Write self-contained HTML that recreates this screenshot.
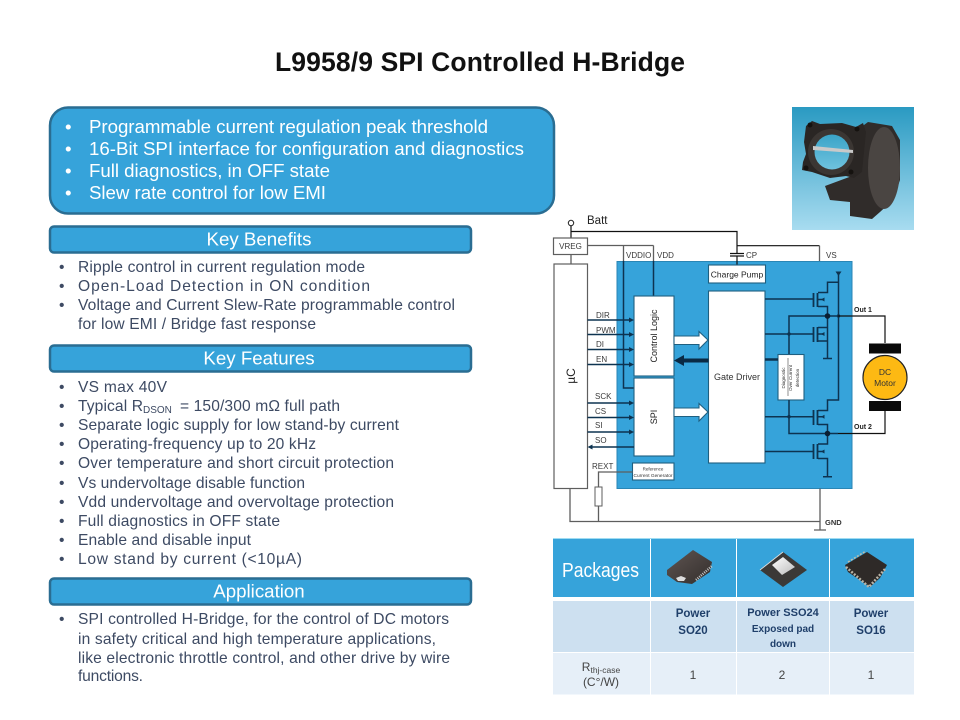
<!DOCTYPE html>
<html><head><meta charset="utf-8"><style>
html,body{margin:0;padding:0;background:#fff;width:960px;height:720px;overflow:hidden}
svg{display:block}
text{font-family:"Liberation Sans",sans-serif}
.l{font-size:15.600px;fill:#3d4a63}
.t{font-size:18.700px;fill:#fff}
.s{font-size:8px;fill:#3a3a3a}
.g{stroke:#5e5e5e;stroke-width:1.3;fill:none}
.k{stroke:#111;stroke-width:1.2;fill:none}
.d{stroke:#0d3350;stroke-width:1.5;fill:none}
.b{fill:#fff;stroke:#1f5f80;stroke-width:1.1}
.h{font-size:18.700px;fill:#fff}
</style></head><body>
<svg width="960" height="720" viewBox="0 0 960 720" xmlns="http://www.w3.org/2000/svg">
<defs>
<linearGradient id="sky" x1="0" y1="0" x2="0" y2="1"><stop offset="0" stop-color="#2a9ac2"/><stop offset="1" stop-color="#a8dcf0"/></linearGradient>
<linearGradient id="hole" x1="0" y1="0" x2="0" y2="1"><stop offset="0" stop-color="#3aa4c8"/><stop offset="1" stop-color="#6fc2de"/></linearGradient>
<linearGradient id="chip" x1="0" y1="0" x2="1" y2="1"><stop offset="0" stop-color="#5f5552"/><stop offset="1" stop-color="#332e2c"/></linearGradient>
<linearGradient id="pad" x1="0" y1="0" x2="1" y2="1"><stop offset="0" stop-color="#fff"/><stop offset="1" stop-color="#bbb"/></linearGradient>
</defs>
<rect width="960" height="720" fill="#fff"/>
<text x="275" y="71" font-size="26.500" font-weight="bold" fill="#111" textLength="410" lengthAdjust="spacing">L9958/9 SPI Controlled H-Bridge</text>

<rect x="50" y="107.500" width="504" height="106" rx="18" fill="#36a3da" stroke="#2a6d92" stroke-width="2.500"/>
<text x="65" y="133" class="t">•</text><text x="89" y="133" class="t" textLength="399" lengthAdjust="spacing">Programmable current regulation peak threshold</text>
<text x="65" y="155" class="t">•</text><text x="89" y="155" class="t" textLength="435" lengthAdjust="spacing">16-Bit SPI interface for configuration and diagnostics</text>
<text x="65" y="177" class="t">•</text><text x="89" y="177" class="t" textLength="241" lengthAdjust="spacing">Full diagnostics, in OFF state</text>
<text x="65" y="199" class="t">•</text><text x="89" y="199" class="t" textLength="237" lengthAdjust="spacing">Slew rate control for low EMI</text>

<rect x="50" y="226.500" width="421" height="26" rx="4" fill="#36a3da" stroke="#2a6d92" stroke-width="2.500"/>
<text x="259" y="245.500" text-anchor="middle" class="h">Key Benefits</text>
<rect x="50" y="345.500" width="421" height="26" rx="4" fill="#36a3da" stroke="#2a6d92" stroke-width="2.500"/>
<text x="259" y="364.500" text-anchor="middle" class="h">Key Features</text>
<rect x="50" y="578.500" width="421" height="26" rx="4" fill="#36a3da" stroke="#2a6d92" stroke-width="2.500"/>
<text x="259" y="597.500" text-anchor="middle" class="h">Application</text>

<g>
<text x="59" y="272" class="l">•</text><text x="78" y="272" class="l" textLength="287" lengthAdjust="spacing">Ripple control in current regulation mode</text>
<text x="59" y="291" class="l">•</text><text x="78" y="291" class="l" textLength="292" lengthAdjust="spacing">Open-Load Detection in ON condition</text>
<text x="59" y="310" class="l">•</text><text x="78" y="310" class="l" textLength="377" lengthAdjust="spacing">Voltage and Current Slew-Rate programmable control</text>
<text x="78" y="329" class="l" textLength="238" lengthAdjust="spacing">for low EMI / Bridge fast response</text>

<text x="59" y="392" class="l">•</text><text x="78" y="392" class="l" textLength="89" lengthAdjust="spacing">VS max 40V</text>
<text x="59" y="411" class="l">•</text><text x="78" y="411" class="l" textLength="65" lengthAdjust="spacing">Typical R</text><text x="143" y="413" font-size="10" fill="#3d4a63">DSON</text><text x="180" y="411" class="l" textLength="160" lengthAdjust="spacing">= 150/300 mΩ full path</text>
<text x="59" y="430" class="l">•</text><text x="78" y="430" class="l" textLength="321" lengthAdjust="spacing">Separate logic supply for low stand-by current</text>
<text x="59" y="449" class="l">•</text><text x="78" y="449" class="l" textLength="238" lengthAdjust="spacing">Operating-frequency  up to 20 kHz</text>
<text x="59" y="468" class="l">•</text><text x="78" y="468" class="l" textLength="316" lengthAdjust="spacing">Over temperature and short circuit protection</text>
<text x="59" y="488" class="l">•</text><text x="78" y="488" class="l" textLength="227" lengthAdjust="spacing">Vs undervoltage  disable function</text>
<text x="59" y="507" class="l">•</text><text x="78" y="507" class="l" textLength="316" lengthAdjust="spacing">Vdd undervoltage  and overvoltage protection</text>
<text x="59" y="526" class="l">•</text><text x="78" y="526" class="l" textLength="202" lengthAdjust="spacing">Full diagnostics in OFF state</text>
<text x="59" y="545" class="l">•</text><text x="78" y="545" class="l" textLength="173" lengthAdjust="spacing">Enable and disable input</text>
<text x="59" y="564" class="l">•</text><text x="78" y="564" class="l" textLength="224" lengthAdjust="spacing">Low stand by current  (&lt;10µA)</text>

<text x="59" y="624" class="l">•</text><text x="78" y="624" class="l" textLength="371" lengthAdjust="spacing">SPI controlled H-Bridge, for the control of DC motors</text>
<text x="78" y="644" class="l" textLength="358" lengthAdjust="spacing">in safety critical and high temperature applications,</text>
<text x="78" y="663" class="l" textLength="372" lengthAdjust="spacing">like electronic throttle control, and other drive by wire</text>
<text x="78" y="681" class="l" textLength="65" lengthAdjust="spacing">functions.</text>
</g>

<!-- throttle photo -->
<rect x="792" y="107" width="122" height="123" fill="url(#sky)"/>
<path d="M860 128L868 122L892 126L900 140L900 180L893 200L880 212L872 219L850 216L850 202L830 200L825 186L852 176Z" fill="#302c2a"/>
<path d="M806 126L812 121L820 124L842 123L856 127L863 123L866 132L862 172L854 178L846 176L830 178L812 172L802 170L803 162L806 154L804 142Z" fill="#2a2624"/>
<ellipse cx="884" cy="168" rx="16" ry="41" fill="#4a4542"/>
<circle cx="831" cy="152" r="23" fill="#3b3633"/>
<circle cx="832" cy="152" r="17.500" fill="url(#hole)"/>
<path d="M813 146L853 150L853 153L813 150Z" fill="#c9c9c9"/>
<circle cx="810" cy="125" r="2.500" fill="#15120f"/><circle cx="806" cy="168" r="2.500" fill="#15120f"/><circle cx="851" cy="172" r="2.500" fill="#15120f"/><circle cx="857" cy="129" r="2.500" fill="#15120f"/>

<!-- circuit -->
<rect x="617" y="261.500" width="235" height="227" fill="#36a3da" stroke="#2a86b5" stroke-width="1"/>
<circle cx="571" cy="223" r="2.700" fill="#fff" stroke="#222" stroke-width="1"/>
<text x="587" y="224" font-size="11.500" fill="#222">Batt</text>
<path class="k" d="M571 226V238M571 231.500H737V253M737 245.700H819.500"/>
<path class="g" d="M819.500 245.700V261"/>
<path class="k" d="M730 253.500H744M730 256H744M737 256V265" stroke-width="1.400"/>
<text x="746" y="258" class="s">CP</text>
<text x="826" y="258" class="s">VS</text>
<rect x="553.500" y="238" width="34" height="16.500" fill="#fff" stroke="#5e5e5e" stroke-width="1.200"/>
<text x="570.500" y="249" text-anchor="middle" class="s">VREG</text>
<path class="g" d="M571 254.500V264"/>
<rect x="554" y="264" width="33.500" height="224.500" fill="#fff" stroke="#5e5e5e" stroke-width="1.200"/>
<text transform="translate(575,376) rotate(-90)" text-anchor="middle" font-size="12" fill="#222">µC</text>
<path class="g" d="M587.500 245.500H653.500M653.500 245.500V261M623.500 245.500V261"/>
<path class="d" d="M623.500 261V388H634M653.500 261V296"/>
<text x="626" y="258" class="s">VDDIO</text>
<text x="657" y="258" class="s">VDD</text>

<rect x="634" y="296" width="40" height="80" class="b"/>
<text transform="translate(657,336) rotate(-90)" text-anchor="middle" font-size="9" fill="#222">Control Logic</text>
<rect x="634" y="378" width="40" height="78" class="b"/>
<text transform="translate(657,417) rotate(-90)" text-anchor="middle" font-size="9" fill="#222">SPI</text>
<rect x="708.500" y="291" width="56.500" height="172" class="b"/>
<text x="737" y="380" text-anchor="middle" font-size="9" fill="#333">Gate Driver</text>
<rect x="708.500" y="265" width="57" height="18" class="b"/>
<text x="737" y="277.500" text-anchor="middle" font-size="8.500" fill="#222">Charge Pump</text>
<rect x="632.500" y="463" width="41.500" height="17" class="b"/>
<text x="653" y="470.500" text-anchor="middle" font-size="4.500" fill="#333">Reference</text>
<text x="653" y="477" text-anchor="middle" font-size="4.800" fill="#333">Current Generator</text>
<rect x="778" y="354.500" width="26" height="45.500" class="b"/>
<g font-size="4.500" fill="#333" text-anchor="middle">
<text transform="translate(785,378) rotate(-90)">Diagnostic</text>
<text transform="translate(792,378) rotate(-90)">Over Current</text>
<text transform="translate(799,378) rotate(-90)">detection</text>
</g>
<path d="M788 358V396" stroke="#444" stroke-width=".6"/>

<!-- signal arrows -->
<g class="d">
<path d="M587.500 320H630M587.500 334.500H630M587.500 349.500H630M587.500 364.500H630M587.500 403H630M587.500 417.500H630M587.500 432H630M592 447H634"/>
</g>
<g fill="#0d3350">
<path d="M634 320l-5-2.500v5zM634 334.500l-5-2.500v5zM634 349.500l-5-2.500v5zM634 364.500l-5-2.500v5zM634 403l-5-2.500v5zM634 417.500l-5-2.500v5zM634 432l-5-2.500v5zM587.500 447l5-2.500v5z"/>
</g>
<g class="s">
<text x="596" y="318" class="s">DIR</text><text x="596" y="333" class="s">PWM</text><text x="596" y="347" class="s">DI</text><text x="596" y="362" class="s">EN</text>
<text x="595" y="399" class="s">SCK</text><text x="595" y="414" class="s">CS</text><text x="595" y="428" class="s">SI</text><text x="595" y="443" class="s">SO</text>
<text x="592" y="469" class="s">REXT</text>
</g>
<path class="g" d="M632.500 472H598.500V487M598.500 506V521.500M570 488.500V521.500H820M820 488.500V530M814 530H826"/>
<rect x="595" y="487" width="7" height="19" fill="#fff" stroke="#5e5e5e" stroke-width="1"/>
<text x="825" y="525" font-size="7.500" font-weight="bold" fill="#333">GND</text>

<!-- block arrows -->
<path d="M674 336H699V331.500L708 340L699 349V344.500H674Z" fill="#fff" stroke="#1f5f80" stroke-width="1.100"/>
<path d="M674 408H699V403.500L708 412L699 421V416.500H674Z" fill="#fff" stroke="#1f5f80" stroke-width="1.100"/>
<path d="M708.500 358.500H684V355L674 360.500L684 366V362.500H708.500Z" fill="#0a2a44"/>

<!-- H-bridge -->
<g class="d">
<path d="M765 299H813M765 334H813M765 416.700H813M765 451.500H813"/>
<path d="M813.500 293V307M817.500 293V307M813.500 327V342M817.500 327V342M813.500 410V425M817.500 410V425M813.500 444V459M817.500 444V459" stroke-width="1.800"/>
<path d="M818 292.500H827.500V282.300H838.500M818 299.500H824M818 306.500H827.500V358.500M818 327.500H827.500M818 334H824M818 341H827.500M838.500 272V400H827.500V410.500H818M818 416.700H824M818 424.500H827.500V444H818M818 451.500H824M818 458.500H827.500V476.700M823 358.500H832M823 476.700H832"/>
<path d="M789 354V316H838.500M789 400V433.500H838"/>
</g>
<path d="M838.500 276l-3-4.500h6z" fill="#0d3350"/>
<g fill="#0d3350"><path d="M821 299.500l3.500-2v4zM821 334l3.500-2v4zM821 416.700l3.500-2v4zM821 451.500l3.500-2v4z"/><circle cx="789" cy="334" r="1.700"/><circle cx="789" cy="416.700" r="1.700"/><circle cx="838.500" cy="316" r="1.700"/></g>
<path d="M765 359.500H778" stroke="#0d3350" stroke-width="2.500"/>
<circle cx="827.500" cy="316" r="2.800" fill="#0a1f33"/><circle cx="827.500" cy="433.500" r="2.800" fill="#0a1f33"/>
<path class="k" d="M838 316H885V343M838 433.500H885V411"/>
<text x="854" y="312" font-size="7" font-weight="bold" fill="#222">Out 1</text>
<text x="854" y="429" font-size="7" font-weight="bold" fill="#222">Out 2</text>
<rect x="869" y="343.500" width="32" height="10" fill="#0a0a0a"/>
<rect x="869" y="401" width="32" height="10" fill="#0a0a0a"/>
<circle cx="885" cy="377.500" r="22" fill="#fdb913" stroke="#222" stroke-width="1.200"/>
<text x="885" y="375" text-anchor="middle" font-size="8.500" fill="#333">DC</text>
<text x="885" y="386" text-anchor="middle" font-size="8.500" fill="#333">Motor</text>

<!-- table -->
<rect x="553" y="538" width="361" height="1" fill="#9fdcf2"/>
<rect x="553" y="539" width="97" height="58" fill="#36a3da"/>
<rect x="651" y="539" width="85" height="58" fill="#36a3da"/>
<rect x="737" y="539" width="92" height="58" fill="#36a3da"/>
<rect x="830" y="539" width="84" height="58" fill="#36a3da"/>
<rect x="553" y="601" width="97" height="51" fill="#cde0f0"/>
<rect x="651" y="601" width="85" height="51" fill="#cde0f0"/>
<rect x="737" y="601" width="92" height="51" fill="#cde0f0"/>
<rect x="830" y="601" width="84" height="51" fill="#cde0f0"/>
<rect x="553" y="653" width="97" height="41.500" fill="#e6eff8"/>
<rect x="651" y="653" width="85" height="41.500" fill="#e6eff8"/>
<rect x="737" y="653" width="92" height="41.500" fill="#e6eff8"/>
<rect x="830" y="653" width="84" height="41.500" fill="#e6eff8"/>
<text x="562" y="577" font-size="20" fill="#fff" textLength="77" lengthAdjust="spacingAndGlyphs">Packages</text>

<path d="M667 570L693 550L712 562L710 572L692 584L677 582L667 575Z" fill="url(#chip)"/>
<path d="M696 580L712 566" stroke="#c8c8c8" stroke-width="2.500" stroke-dasharray="1 1.200"/>
<path d="M676 578l5-2 5 2-2 3-6 0z" fill="#ddd"/>
<path d="M760 570L783 552L807 570L783 587Z" fill="#3b3937"/>
<path d="M760 570L783 552" stroke="#e0e0e0" stroke-width=".8"/>
<path d="M772 565L783 557L795 567L782 575Z" fill="url(#pad)"/>
<path d="M845 565L867 552L887 565L880 578L870 587L848 572Z" fill="#2e2a28"/>
<path d="M846 567L869 587L886 568" stroke="#b9b3a5" stroke-width="2.500" fill="none" stroke-dasharray="2 1.500"/>
<path d="M848 562L866 551" stroke="#c2bda8" stroke-width="1.500" stroke-dasharray="2 1.500"/>

<g font-weight="bold" font-size="11.500" fill="#1f3f6a" text-anchor="middle">
<text x="693" y="617">Power</text><text x="693" y="634">SO20</text>
<text x="871" y="617">Power</text><text x="871" y="634">SO16</text>
<text x="783" y="616" font-size="11">Power SSO24</text>
<text x="783" y="632" font-size="10">Exposed pad</text>
<text x="783" y="647" font-size="10">down</text>
</g>
<g font-size="12" fill="#444" text-anchor="middle">
<text x="601" y="671">R<tspan font-size="8.500" dy="2">thj-case</tspan></text>
<text x="601" y="686">(C°/W)</text>
<text x="693" y="679">1</text><text x="782" y="679">2</text><text x="871" y="679">1</text>
</g>
</svg>
</body></html>
